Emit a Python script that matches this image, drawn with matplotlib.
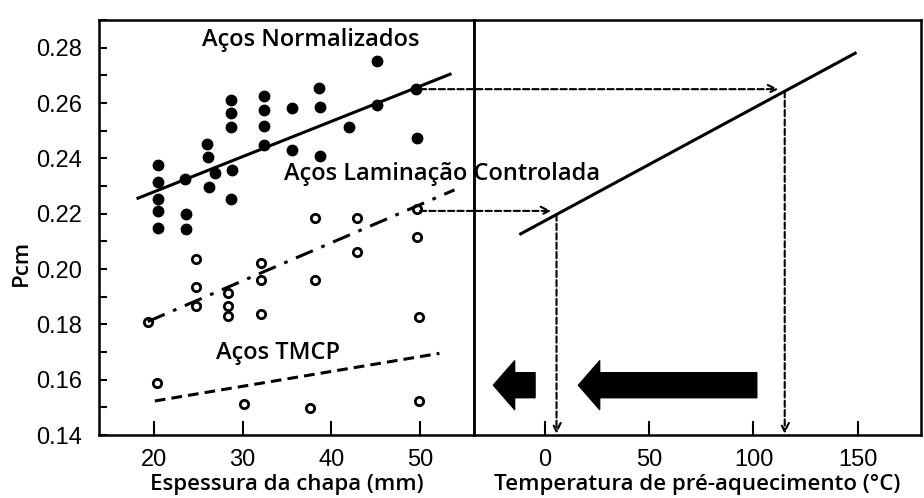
import numpy as np
import matplotlib
matplotlib.use("Agg")
import matplotlib.pyplot as plt
from matplotlib.patches import ConnectionPatch
from matplotlib.ticker import MultipleLocator

# --- dados ---
# Aços Normalizados (pontos cheios)
norm_x = [20.4, 20.4, 20.4, 20.4, 20.4, 23.5, 23.6, 23.6, 26.0, 26.1, 26.2, 26.9,
          28.7, 28.7, 28.7, 28.8, 28.7, 32.4, 32.4, 32.4, 32.4, 35.6, 35.6,
          38.6, 38.7, 38.7, 42.0, 45.2, 45.2, 49.6, 49.7]
norm_y = [0.2376, 0.2316, 0.2253, 0.2211, 0.2149, 0.2324, 0.2199, 0.2146, 0.2452, 0.2406, 0.2296, 0.2346,
          0.2611, 0.2565, 0.2512, 0.2358, 0.2252, 0.2626, 0.2575, 0.2517, 0.2448, 0.2581, 0.2430,
          0.2653, 0.2587, 0.2409, 0.2515, 0.2750, 0.2593, 0.2650, 0.2475]
norm_fit_x = [18.2, 53.4]
norm_fit_y = [0.2256, 0.2704]

# Aços Laminação Controlada (círculos abertos)
lam_x = [19.3, 24.7, 24.7, 24.7, 28.4, 28.4, 28.4, 32.1, 32.1, 32.1,
         38.2, 38.2, 42.9, 42.9, 49.7, 49.7, 49.9]
lam_y = [0.1810, 0.2035, 0.1936, 0.1866, 0.1912, 0.1866, 0.1830, 0.2021, 0.1960, 0.1836,
         0.2186, 0.1960, 0.2186, 0.2063, 0.2217, 0.2117, 0.1828]
lam_fit_x = [19.3, 53.9]
lam_fit_y = [0.181, 0.2286]

# Aços TMCP
tmcp_x = [20.3, 30.1, 37.6, 49.9]
tmcp_y = [0.1587, 0.1511, 0.1499, 0.1523]
tmcp_fit_x = [20.1, 52.2]
tmcp_fit_y = [0.1523, 0.1695]

# Pcm x temperatura de pré-aquecimento
temp_line_x = [-11.7, 148.8]
temp_line_y = [0.2127, 0.278]

# leituras (espessura 50 mm -> Pcm -> temperatura)
read_thick = [50, 50]
read_pcm = [0.265, 0.221]
read_arrow_end = [112, 3]
read_temp = [115, 5.5]

# setas grossas (início, fim)
big_arrows = [(-4.8, -24.8), (101.6, 16.0)]
big_arrow_y = 0.158

plt.rcParams['font.family'] = ['Liberation Sans', 'DejaVu Sans']
txt_font = ['Open Sans', 'DejaVu Sans']

fig = plt.figure(figsize=(9.24, 4.98), dpi=100)
ax1 = fig.add_axes([99 / 924, 63 / 498, 375 / 924, 415 / 498])
ax2 = fig.add_axes([474 / 924, 63 / 498, 447 / 924, 415 / 498])
ax2.patch.set_alpha(0)

# painel esquerdo
ax1.plot(norm_x, norm_y, 'o', color='black', markersize=7.5)
ax1.plot(norm_fit_x, norm_fit_y, '-', color='black', lw=2.2)
ax1.plot(lam_x, lam_y, 'o', mfc='white', mec='black', mew=2, markersize=6)
ax1.plot(lam_fit_x, lam_fit_y, color='black', lw=2.2, dashes=(6, 3, 1.2, 3))
ax1.plot(tmcp_x, tmcp_y, 'o', mfc='white', mec='black', mew=2, markersize=6)
ax1.plot(tmcp_fit_x, tmcp_fit_y, color='black', lw=2.2, dashes=(3.5, 2))

ax1.set_xlim(13.8, 56.1)
ax1.set_ylim(0.14, 0.29)
ax1.set_xticks([20, 30, 40, 50])
ax1.set_yticks(np.arange(0.14, 0.281, 0.02))
ax1.yaxis.set_minor_locator(MultipleLocator(0.01))
ax1.set_yticklabels([f'{v:.2f}' for v in np.arange(0.14, 0.281, 0.02)])
ax1.tick_params(axis='x', direction='in', length=10, width=1.5, labelsize=17, pad=10)
ax1.tick_params(axis='y', which='both', direction='in', length=6, width=1.5, labelsize=17, pad=12)
ax1.set_xlabel('Espessura da chapa (mm)', family=txt_font, fontsize=16, weight='semibold', labelpad=2)
ax1.set_ylabel('Pcm', family=txt_font, fontsize=16, weight='semibold')
ax1.yaxis.set_label_coords(-0.18, 0.414)

ax1.text(37.7, 0.2826, 'Aços Normalizados', family=txt_font, fontsize=17,
         ha='center', va='center', weight='semibold')
ax1.text(52.5, 0.2343, 'Aços Laminação Controlada', family=txt_font, fontsize=17,
         ha='center', va='center', weight='semibold', clip_on=False, zorder=5)
ax1.text(34.0, 0.1698, 'Aços TMCP', family=txt_font, fontsize=17,
         ha='center', va='center', weight='semibold')

# painel direito
ax2.plot(temp_line_x, temp_line_y, '-', color='black', lw=2.2)
ax2.set_xlim(-34.1, 180.4)
ax2.set_ylim(0.14, 0.29)
ax2.set_xticks([0, 50, 100, 150])
ax2.set_yticks([])
ax2.tick_params(axis='x', direction='in', length=10, width=1.5, labelsize=17, pad=10)
ax2.set_xlabel('Temperatura de pré-aquecimento (°C)', family=txt_font, fontsize=16,
               weight='semibold', labelpad=2)

for ax in (ax1, ax2):
    for s in ax.spines.values():
        s.set_linewidth(1.8)

# leitura: espessura -> Pcm -> temperatura
for t, p, xe, tp in zip(read_thick, read_pcm, read_arrow_end, read_temp):
    con = ConnectionPatch(xyA=(t, p), coordsA=ax1.transData,
                          xyB=(xe, p), coordsB=ax2.transData,
                          arrowstyle='->,head_length=0.5,head_width=0.25',
                          linestyle=(0, (3, 1.5)), lw=1.5, color='black',
                          shrinkA=0, shrinkB=0, mutation_scale=12)
    fig.add_artist(con)
    ax2.annotate('', xy=(tp, 0.1405), xytext=(tp, np.interp(tp, temp_line_x, temp_line_y)),
                 arrowprops=dict(arrowstyle='->,head_length=0.5,head_width=0.25',
                                 linestyle=(0, (3, 1.5)), lw=1.5, color='black',
                                 shrinkA=0, shrinkB=0, mutation_scale=12))

for x0, x1 in big_arrows:
    ax2.annotate('', xy=(x1, big_arrow_y), xytext=(x0, big_arrow_y),
                 arrowprops=dict(arrowstyle='simple,head_length=0.85,head_width=1.95,tail_width=1.0',
                                 fc='black', ec='black', shrinkA=0, shrinkB=0,
                                 mutation_scale=18))

fig.savefig('out.png', dpi=100)
